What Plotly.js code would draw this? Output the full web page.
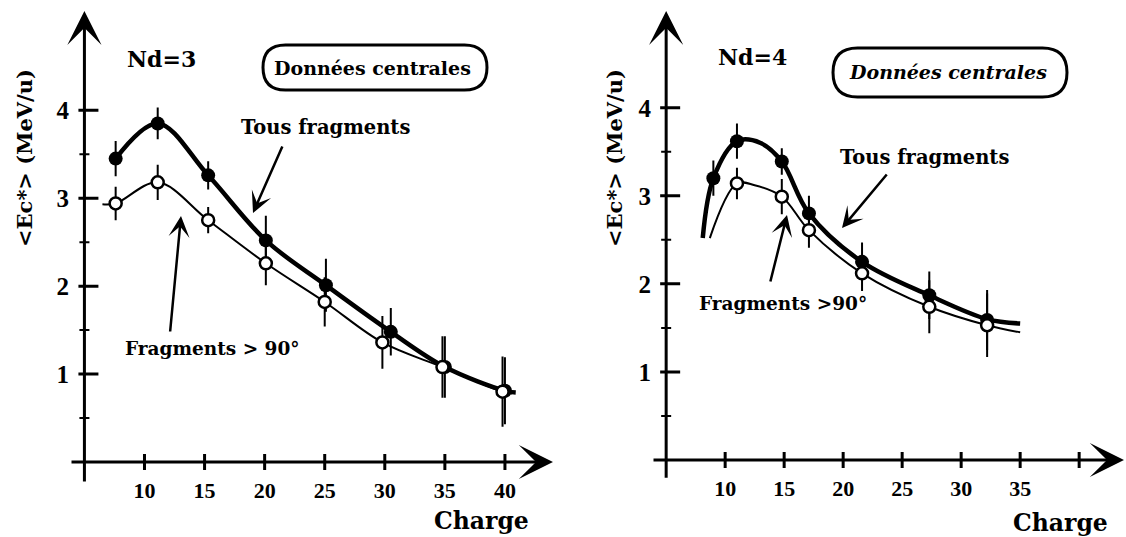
<!DOCTYPE html>
<html>
<head>
<meta charset="utf-8">
<script src="https://cdn.plot.ly/plotly-3.0.1.min.js"></script>
<style>html,body{margin:0;padding:0;background:#fff;}#chart{width:1126px;height:537px;}</style>
</head>
<body>
<div id="chart"></div>
<script>
// ---- Data ----
// Left panel, Nd=3
const leftChargeAll = [7.6, 11.1, 15.3, 20.1, 25.1, 30.5, 35.0, 40.0];
const leftEcAll     = [3.45, 3.85, 3.26, 2.52, 2.01, 1.48, 1.08, 0.81];
const leftErrAll    = [0.20, 0.18, 0.16, 0.28, 0.30, 0.27, 0.35, 0.38];
const leftChargeBack = [7.6, 11.1, 15.3, 20.1, 25.0, 29.8, 34.8, 39.8];
const leftEcBack     = [2.94, 3.18, 2.75, 2.26, 1.82, 1.36, 1.08, 0.80];
const leftErrBack    = [0.19, 0.20, 0.15, 0.25, 0.28, 0.30, 0.35, 0.40];
// smooth curves drawn through the points
const leftFitAllCharge  = [7.6, 11.1, 15.3, 20.1, 25.1, 30.5, 35.0, 40.0, 40.9];
const leftFitAllEc      = [3.45, 3.85, 3.26, 2.52, 2.01, 1.48, 1.08, 0.81, 0.79];
const leftFitBackCharge = [6.5, 7.6, 11.1, 15.3, 20.1, 25.0, 29.8, 34.8, 39.8, 40.6];
const leftFitBackEc     = [2.93, 2.94, 3.18, 2.75, 2.26, 1.82, 1.36, 1.08, 0.80, 0.78];

// Right panel, Nd=4
const rightChargeAll = [9.0, 11.0, 14.8, 17.1, 21.6, 27.3, 32.2];
const rightEcAll     = [3.20, 3.62, 3.39, 2.80, 2.25, 1.87, 1.59];
const rightErrAll    = [0.20, 0.20, 0.15, 0.20, 0.22, 0.27, 0.34];
const rightChargeBack = [11.0, 14.8, 17.1, 21.6, 27.3, 32.2];
const rightEcBack     = [3.14, 2.99, 2.61, 2.12, 1.74, 1.53];
const rightErrBack    = [0.18, 0.20, 0.20, 0.20, 0.30, 0.36];
const rightFitAllCharge  = [8.1, 9.0, 11.0, 13.0, 14.8, 17.1, 21.6, 27.3, 32.2, 35.0];
const rightFitAllEc      = [2.52, 3.20, 3.62, 3.60, 3.39, 2.80, 2.25, 1.87, 1.60, 1.55];
const rightFitBackCharge = [8.7, 11.0, 12.5, 14.8, 17.1, 21.6, 27.3, 32.2, 35.0];
const rightFitBackEc     = [2.52, 3.14, 3.12, 2.99, 2.61, 2.12, 1.74, 1.53, 1.45];

// Axis ticks
const yMajorTicks = [1, 2, 3, 4];
const yMinorTicks = [0.5, 1.5, 2.5, 3.5];
const xTicksLeft  = [10, 15, 20, 25, 30, 35, 40];
const xLabelsLeft = [10, 15, 20, 25, 30, 35, 40];
const xTicksRight = [10, 15, 20, 25, 30, 35, 40];
const xLabelsRight = [10, 15, 20, 25, 30, 35];

// Texts
const yTitle = '&lt;Ec*&gt; (MeV/u)';
const xTitle = 'Charge';
const ndLeft = 'Nd=3', ndRight = 'Nd=4';
const boxText = 'Données centrales';
const labelAll = 'Tous fragments';
const labelBackLeft = 'Fragments &gt; 90°';
const labelBackRight = 'Fragments &gt;90°';

// ---- Drawing ----
const W = 1126, H = 537;
const px = x => x / W, py = y => 1 - y / H;
const SERIF = 'DejaVu Serif, serif';
const XTICKFONT = {family: 'Liberation Serif, serif', size: 22, color: '#000', weight: 'bold'};
const YTICKFONT = {family: 'Liberation Serif, serif', size: 25, color: '#000', weight: 'bold'};

function panel(xa, ya, fitAc, fitAe, fitBc, fitBe, ac, ae, aerr, bc, be, berr) {
  return [
    {x: fitAc, y: fitAe, xaxis: xa, yaxis: ya, mode: 'lines', line: {color: '#000', width: 4.5, shape: 'spline', smoothing: 1}, hoverinfo: 'skip'},
    {x: fitBc, y: fitBe, xaxis: xa, yaxis: ya, mode: 'lines', line: {color: '#000', width: 2, shape: 'spline', smoothing: 1}, hoverinfo: 'skip'},
    {x: ac, y: ae, xaxis: xa, yaxis: ya, mode: 'markers', marker: {color: '#000', size: 14, line: {width: 0}},
     error_y: {type: 'data', array: aerr, visible: true, color: '#000', thickness: 2, width: 0}},
    {x: bc, y: be, xaxis: xa, yaxis: ya, mode: 'markers', marker: {color: '#fff', size: 12, line: {width: 2.5, color: '#000'}},
     error_y: {type: 'data', array: berr, visible: true, color: '#000', thickness: 2, width: 0}}
  ];
}

const data = [].concat(
  panel('x', 'y', leftFitAllCharge, leftFitAllEc, leftFitBackCharge, leftFitBackEc,
        leftChargeAll, leftEcAll, leftErrAll, leftChargeBack, leftEcBack, leftErrBack),
  panel('x2', 'y2', rightFitAllCharge, rightFitAllEc, rightFitBackCharge, rightFitBackEc,
        rightChargeAll, rightEcAll, rightErrAll, rightChargeBack, rightEcBack, rightErrBack)
);

const shapes = [];
function addTicks(xr, yr, xt) {
  yMajorTicks.forEach(v => shapes.push({type: 'line', xref: xr, yref: yr, xsizemode: 'pixel', xanchor: 5, x0: -6, x1: 14, y0: v, y1: v, line: {color: '#000', width: 3}}));
  yMinorTicks.forEach(v => shapes.push({type: 'line', xref: xr, yref: yr, xsizemode: 'pixel', xanchor: 5, x0: -5, x1: 5, y0: v, y1: v, line: {color: '#000', width: 2}}));
  xt.forEach(v => shapes.push({type: 'line', xref: xr, yref: yr, ysizemode: 'pixel', yanchor: 0, y0: -8, y1: 8, x0: v, x1: v, line: {color: '#000', width: 3}}));
}
addTicks('x', 'y', xTicksLeft);
addTicks('x2', 'y2', xTicksRight);

function pill(x0, y0, x1, y1) {
  const r = (y1 - y0) / 2, ym = (y0 + y1) / 2;
  const P = (x, y) => px(x).toFixed(5) + ',' + py(y).toFixed(5);
  return {type: 'path', xref: 'paper', yref: 'paper', line: {color: '#000', width: 3},
    path: 'M' + P(x0 + r, y0) + ' L' + P(x1 - r, y0) + ' Q' + P(x1, y0) + ' ' + P(x1, ym) +
          ' Q' + P(x1, y1) + ' ' + P(x1 - r, y1) + ' L' + P(x0 + r, y1) + ' Q' + P(x0, y1) + ' ' + P(x0, ym) +
          ' Q' + P(x0, y0) + ' ' + P(x0 + r, y0) + ' Z'};
}
shapes.push(pill(263, 45, 487, 90));
shapes.push(pill(833, 48, 1067, 97));

const annotations = [];
function axisArrows(xr, yr, xmin, xmax, ymin, ymax) {
  annotations.push({xref: xr, yref: yr, axref: xr, ayref: yr, x: xmax, y: 0, ax: xmin, ay: 0, text: '', showarrow: true, arrowhead: 3, arrowsize: 1.9, arrowwidth: 3, arrowcolor: '#000', standoff: 0});
  annotations.push({xref: xr, yref: yr, axref: xr, ayref: yr, x: 5, y: ymax, ax: 5, ay: ymin, text: '', showarrow: true, arrowhead: 3, arrowsize: 1.9, arrowwidth: 3, arrowcolor: '#000', standoff: 0});
}
axisArrows('x', 'y', 3.8, 44, -0.24, 5.13);
axisArrows('x2', 'y2', 3.8, 43.8, -0.22, 5.1);

function txt(text, x, y, size, opts) {
  annotations.push(Object.assign({xref: 'paper', yref: 'paper', x: px(x), y: py(y), xanchor: 'center', yanchor: 'middle',
    text: '<b>' + text + '</b>', showarrow: false, font: {family: SERIF, size: size, color: '#000'}}, opts || {}));
}
function pointer(hx, hy, tx, ty) {
  annotations.push({xref: 'paper', yref: 'paper', x: px(hx), y: py(hy), ax: tx - hx, ay: ty - hy, text: '', showarrow: true,
    arrowhead: 3, arrowsize: 1.4, arrowwidth: 2.5, arrowcolor: '#000', standoff: 0});
}
// left panel texts
txt(ndLeft, 161, 59, 22);
txt(boxText, 372, 68, 19);
txt(labelAll, 325, 128, 19.5);
txt(labelBackLeft, 212, 348, 18.5);
txt(xTitle, 481, 521, 23.5);
txt(yTitle, 24, 158, 21, {textangle: -90});
pointer(253, 213, 283, 145);
pointer(181, 216, 170, 333);
// right panel texts
txt(ndRight, 752, 57, 22);
txt('<i>' + boxText + '</i>', 948, 72, 19);
txt(labelAll, 924, 157, 19.5);
txt(labelBackRight, 783, 303, 18.5);
txt(xTitle, 1060, 523, 23.5);
txt(yTitle, 614, 158, 21, {textangle: -90});
pointer(842, 228, 888, 173);
pointer(787, 215, 770, 283);

const axBase = {showgrid: false, zeroline: false, showline: false, ticks: '', fixedrange: true};
const layout = {
  width: W, height: H, margin: {l: 0, r: 0, t: 0, b: 0},
  paper_bgcolor: '#fff', plot_bgcolor: '#fff', showlegend: false,
  xaxis: Object.assign({}, axBase, {tickfont: XTICKFONT, domain: [70 / W, 553 / W], range: [3.8, 44], anchor: 'y', tickvals: xLabelsLeft, ticktext: xLabelsLeft.map(String)}),
  yaxis: Object.assign({}, axBase, {tickfont: YTICKFONT, domain: [1 - 475.2 / H, 1 - 10 / H], range: [-0.15, 5.14], anchor: 'x', tickvals: yMajorTicks, ticktext: yMajorTicks.map(String)}),
  xaxis2: Object.assign({}, axBase, {tickfont: XTICKFONT, domain: [652 / W, 1124 / W], range: [3.8, 43.8], anchor: 'y2', tickvals: xLabelsRight, ticktext: xLabelsRight.map(String)}),
  yaxis2: Object.assign({}, axBase, {tickfont: YTICKFONT, domain: [1 - 473.2 / H, 1 - 10 / H], range: [-0.15, 5.11], anchor: 'x2', tickvals: yMajorTicks, ticktext: yMajorTicks.map(String)}),
  shapes: shapes, annotations: annotations
};
Plotly.newPlot('chart', data, layout, {staticPlot: true, displayModeBar: false});
</script>
</body>
</html>
